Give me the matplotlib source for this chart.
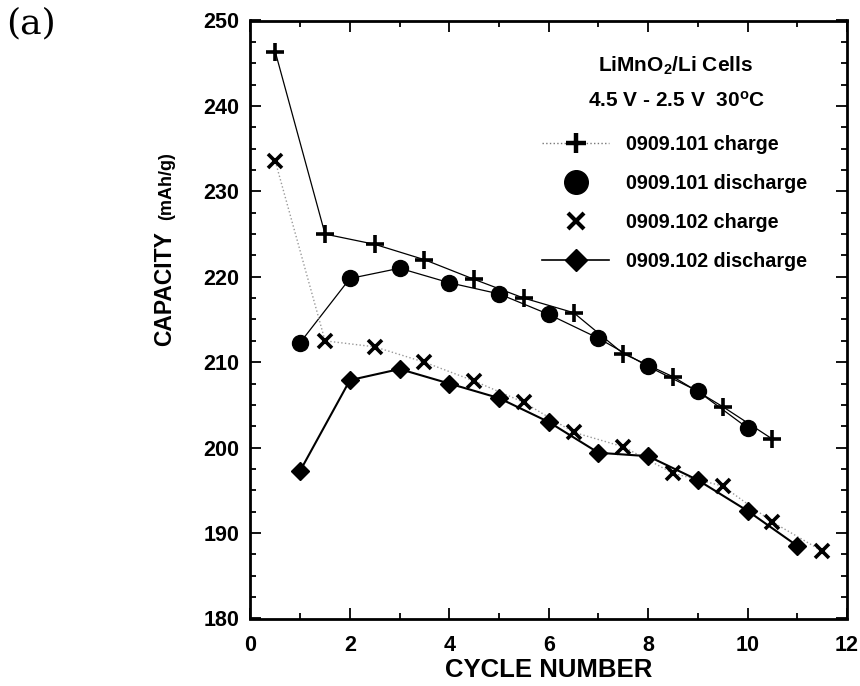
import matplotlib
matplotlib.use("Agg")
import matplotlib.pyplot as plt
from matplotlib.lines import Line2D
from matplotlib.ticker import MultipleLocator

plt.rcParams['font.family'] = ['Liberation Sans', 'DejaVu Sans']
plt.rcParams['font.weight'] = 'bold'
plt.rcParams['mathtext.fontset'] = 'custom'
plt.rcParams['mathtext.rm'] = 'Liberation Sans:bold'
plt.rcParams['mathtext.bf'] = 'Liberation Sans:bold'
plt.rcParams['mathtext.default'] = 'rm'

# ---- data ----
charge_cycles_101 = [0.5, 1.5, 2.5, 3.5, 4.5, 5.5, 6.5, 7.5, 8.5, 9.5, 10.5]
charge_101 = [246.3, 225.0, 223.8, 222.0, 219.7, 217.5, 215.8, 211.0, 208.3, 204.8, 201.0]

discharge_cycles_101 = [1, 2, 3, 4, 5, 6, 7, 8, 9, 10]
discharge_101 = [212.3, 219.8, 221.0, 219.3, 218.0, 215.6, 212.8, 209.5, 206.6, 202.3]

charge_cycles_102 = [0.5, 1.5, 2.5, 3.5, 4.5, 5.5, 6.5, 7.5, 8.5, 9.5, 10.5, 11.5]
charge_102 = [233.5, 212.5, 211.8, 210.0, 207.8, 205.3, 201.8, 200.1, 197.0, 195.5, 191.3, 187.9]

discharge_cycles_102 = [1, 2, 3, 4, 5, 6, 7, 8, 9, 10, 11]
discharge_102 = [197.3, 207.9, 209.2, 207.5, 205.8, 203.0, 199.4, 199.0, 196.2, 192.6, 188.5]

labels = ["0909.101 charge", "0909.101 discharge", "0909.102 charge", "0909.102 discharge"]
x_ticks = [0, 2, 4, 6, 8, 10, 12]
y_ticks = [180, 190, 200, 210, 220, 230, 240, 250]

fig = plt.figure(figsize=(8.6, 6.86), dpi=100)
ax = fig.add_axes([250.5 / 860, (686 - 618.5) / 686, 596.5 / 860, 598 / 686])

ax.plot(charge_cycles_101, charge_101, color='black', lw=0.9, ls='-',
        marker='+', ms=13, mew=2.6)
ax.plot(discharge_cycles_101, discharge_101, color='black', lw=0.9, ls='-',
        marker='o', ms=11.5)
ax.plot(charge_cycles_102, charge_102, color='#999999', lw=1.0, ls=':',
        marker='x', ms=10.5, mew=2.6, mec='black', mfc='black')
ax.plot(discharge_cycles_102, discharge_102, color='black', lw=1.5, ls='-',
        marker='D', ms=9.5)

ax.set_xlim(0, 12)
ax.set_ylim(180, 250)
ax.set_xticks(x_ticks)
ax.set_yticks(y_ticks)
ax.xaxis.set_minor_locator(MultipleLocator(1))
ax.yaxis.set_minor_locator(MultipleLocator(2.5))
ax.tick_params(which='both', direction='in', top=True, right=True, width=1.3)
ax.tick_params(which='major', length=8)
ax.tick_params(which='minor', length=4.5)
ax.tick_params(axis='x', which='major', pad=12, labelsize=15.5)
ax.tick_params(axis='y', which='major', pad=8, labelsize=15.5)
for lab in ax.get_xticklabels() + ax.get_yticklabels():
    lab.set_fontweight('bold')
for sp in ax.spines.values():
    sp.set_linewidth(2.0)

ax.set_xlabel("CYCLE NUMBER", fontsize=18.5, fontweight='bold')
ax.xaxis.set_label_coords(0.5, -0.066)

fig.text(165 / 860, 1 - 289 / 686, "CAPACITY", rotation=90, ha='center', va='center',
         fontsize=16.5, fontweight='bold')
fig.text(167 / 860, 1 - 186 / 686, "(mAh/g)", rotation=90, ha='center', va='center',
         fontsize=13, fontweight='bold')

fig.text(675 / 860, 1 - 66 / 686, "LiMnO$_2$/Li Cells", ha='center', va='center',
         fontsize=15, fontweight='bold')
fig.text(677 / 860, 1 - 101 / 686, "4.5 V - 2.5 V  30$^{o}$C", ha='center', va='center',
         fontsize=15, fontweight='bold')

handles = [
    Line2D([], [], color='#777777', lw=1.0, ls=':', marker='+', ms=14, mew=3.2, mec='black'),
    Line2D([], [], color='black', lw=0, marker='o', ms=17),
    Line2D([], [], color='black', lw=0, marker='x', ms=11, mew=3.0),
    Line2D([], [], color='black', lw=1.2, ls='-', marker='D', ms=11),
]
leg = ax.legend(handles, labels, loc='upper left',
                bbox_to_anchor=(542 / 860, 1 - 135 / 686), bbox_transform=fig.transFigure,
                frameon=False, borderpad=0, borderaxespad=0,
                handlelength=3.4, handletextpad=0.85, labelspacing=1.02,
                prop={'family': 'Liberation Sans', 'weight': 'bold', 'size': 14.2})

fig.text(6 / 860, 1 - 6 / 686, "(a)", ha='left', va='top',
         fontsize=26, family='DejaVu Serif', fontweight='normal')

fig.savefig("out.png", dpi=100)
